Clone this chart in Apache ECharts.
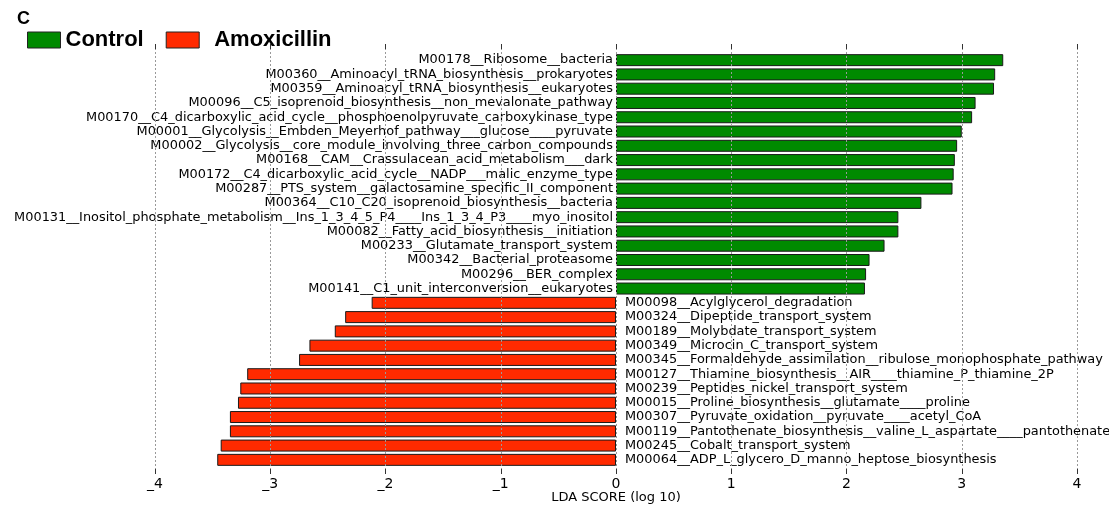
<!DOCTYPE html>
<html>
<head>
<meta charset="utf-8">
<script src="https://cdn.jsdelivr.net/npm/echarts@6/dist/echarts.min.js"></script>
<style>
html,body{margin:0;padding:0;background:#fff;}
#main{width:1109px;height:508px;}
</style>
</head>
<body>
<div id="main"></div>
<script>
const categories = [
  'M00178__Ribosome__bacteria',
  'M00360__Aminoacyl_tRNA_biosynthesis__prokaryotes',
  'M00359__Aminoacyl_tRNA_biosynthesis__eukaryotes',
  'M00096__C5_isoprenoid_biosynthesis__non_mevalonate_pathway',
  'M00170__C4_dicarboxylic_acid_cycle__phosphoenolpyruvate_carboxykinase_type',
  'M00001__Glycolysis__Embden_Meyerhof_pathway___glucose____pyruvate',
  'M00002__Glycolysis__core_module_involving_three_carbon_compounds',
  'M00168__CAM__Crassulacean_acid_metabolism___dark',
  'M00172__C4_dicarboxylic_acid_cycle__NADP___malic_enzyme_type',
  'M00287__PTS_system__galactosamine_specific_II_component',
  'M00364__C10_C20_isoprenoid_biosynthesis__bacteria',
  'M00131__Inositol_phosphate_metabolism__Ins_1_3_4_5_P4____Ins_1_3_4_P3____myo_inositol',
  'M00082__Fatty_acid_biosynthesis__initiation',
  'M00233__Glutamate_transport_system',
  'M00342__Bacterial_proteasome',
  'M00296__BER_complex',
  'M00141__C1_unit_interconversion__eukaryotes',
  'M00098__Acylglycerol_degradation',
  'M00324__Dipeptide_transport_system',
  'M00189__Molybdate_transport_system',
  'M00349__Microcin_C_transport_system',
  'M00345__Formaldehyde_assimilation__ribulose_monophosphate_pathway',
  'M00127__Thiamine_biosynthesis__AIR____thiamine_P_thiamine_2P',
  'M00239__Peptides_nickel_transport_system',
  'M00015__Proline_biosynthesis__glutamate____proline',
  'M00307__Pyruvate_oxidation__pyruvate____acetyl_CoA',
  'M00119__Pantothenate_biosynthesis__valine_L_aspartate____pantothenate',
  'M00245__Cobalt_transport_system',
  'M00064__ADP_L_glycero_D_manno_heptose_biosynthesis'
];
const controlValues = [3.36, 3.29, 3.28, 3.12, 3.09, 3.00, 2.96, 2.94, 2.93, 2.92, 2.65, 2.45, 2.45, 2.33, 2.20, 2.17, 2.16];
const amoxicillinValues = [-2.12, -2.35, -2.44, -2.66, -2.75, -3.20, -3.26, -3.28, -3.35, -3.35, -3.43, -3.46];
const tickValues = [-4, -3, -2, -1, 0, 1, 2, 3, 4];
const tickLabels = ['_4', '_3', '_2', '_1', '0', '1', '2', '3', '4'];

const nC = controlValues.length;
const controlData = categories.map((c, i) => i < nC ? controlValues[i] : '-');
const amoxData = categories.map((c, i) => i >= nC ? amoxicillinValues[i - nC] : '-');

const labelFont = { fontFamily: 'DejaVu Sans', fontSize: 12.9, color: '#000' };

const chart = echarts.init(document.getElementById('main'), null, { renderer: 'canvas' });
chart.setOption({
  animation: false,
  backgroundColor: '#fff',
  title: {
    text: 'C', left: 12, top: 5,
    textStyle: { fontFamily: 'Liberation Sans', fontWeight: 'bold', fontSize: 18, color: '#000' }
  },
  legend: {
    left: 22, top: 24,
    icon: 'rect', itemWidth: 33, itemHeight: 16, itemGap: 22,
    itemStyle: { borderColor: '#222', borderWidth: 1 },
    textStyle: { fontFamily: 'Liberation Sans', fontWeight: 'bold', fontSize: 22, color: '#000' },
    data: [
      { name: 'Control' },
      { name: 'Amoxicillin', textStyle: { padding: [0, 0, 0, 10] } }
    ]
  },
  grid: [
    { left: 155, right: 32, top: 53, height: 414, outerBoundsMode: 'none', containLabel: false },
    { left: 155, right: 32, top: 44, bottom: 34, outerBoundsMode: 'none', containLabel: false }
  ],
  xAxis: [
    { gridIndex: 0, type: 'value', min: -4, max: 4, interval: 1, show: false },
    {
      gridIndex: 1, type: 'value', min: -4, max: 4, interval: 1, position: 'bottom', z: 5,
      axisLine: { show: false },
      axisTick: { show: true, inside: true, length: 5, lineStyle: { color: '#333' } },
      axisLabel: {
        margin: 3, fontFamily: 'DejaVu Sans', fontSize: 14, color: '#000',
        formatter: v => tickLabels[tickValues.indexOf(v)]
      },
      splitLine: { show: true, lineStyle: { color: '#999', type: [2, 2], width: 1 } },
      name: 'LDA SCORE (log 10)', nameLocation: 'middle', nameGap: 17, nameMoveOverlap: false,
      nameTextStyle: { fontFamily: 'DejaVu Sans', fontSize: 13, color: '#000' }
    },
    {
      gridIndex: 1, type: 'value', min: -4, max: 4, interval: 1, position: 'top', z: 5,
      axisLine: { show: false },
      axisTick: { show: true, inside: true, length: 5, lineStyle: { color: '#333' } },
      axisLabel: { show: false },
      splitLine: { show: false }
    }
  ],
  yAxis: [
    { gridIndex: 0, type: 'category', data: categories, inverse: true, show: false },
    { gridIndex: 1, type: 'value', min: 0, max: 1, show: false }
  ],
  series: [
    {
      name: 'Control', type: 'bar', xAxisIndex: 0, yAxisIndex: 0, stack: 'lda',
      data: controlData, barWidth: '84%',
      itemStyle: { color: '#008a00', borderColor: '#1a1a1a', borderWidth: 1 },
      label: {
        show: true, position: 'left', distance: 3, ...labelFont,
        formatter: p => p.name
      }
    },
    {
      name: 'Amoxicillin', type: 'bar', xAxisIndex: 0, yAxisIndex: 0, stack: 'lda',
      data: amoxData, barWidth: '84%',
      itemStyle: { color: '#ff2a00', borderColor: '#1a1a1a', borderWidth: 1 },
      label: {
        show: true, position: 'right', distance: 9, ...labelFont,
        formatter: p => p.name
      }
    }
  ]
});
</script>
</body>
</html>
